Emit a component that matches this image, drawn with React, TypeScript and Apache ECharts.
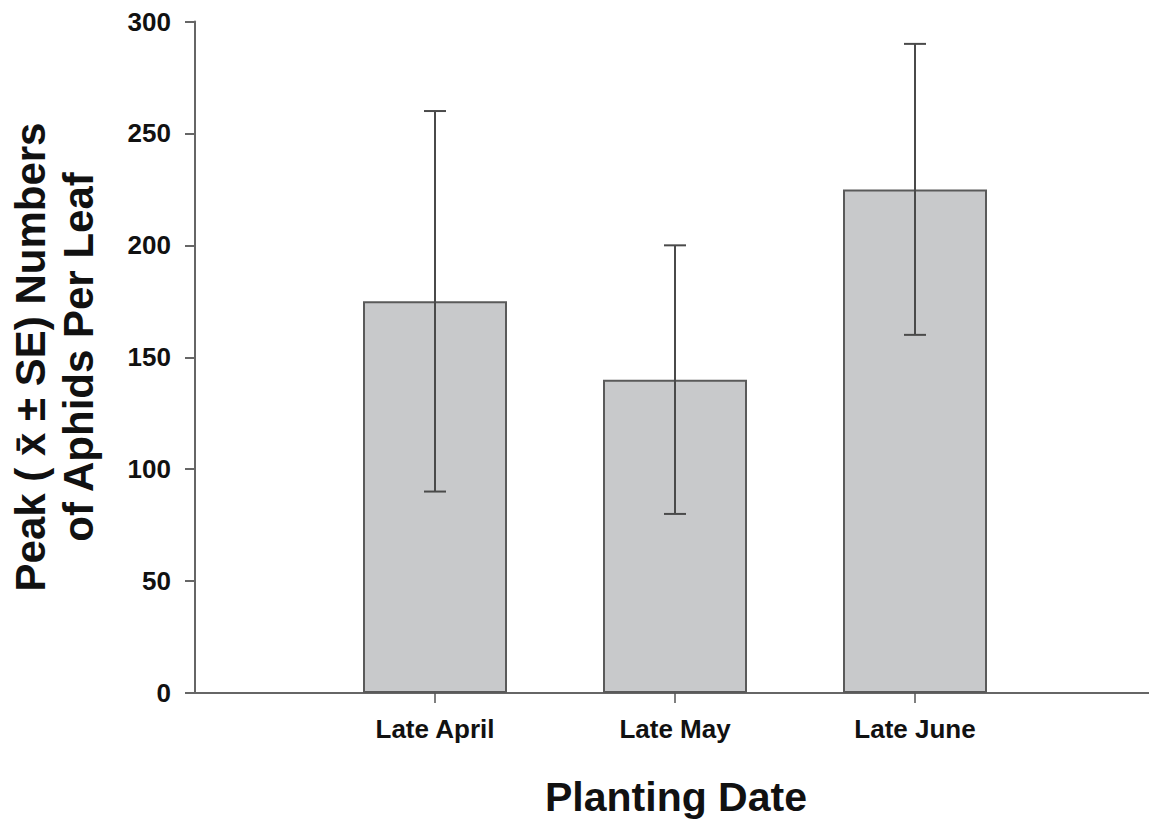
import React, { useEffect, useRef } from "react";
import * as echarts from "echarts";

const categories = ["", "Late April", "Late May", "Late June", ""];
const means = [null, 175, 140, 225, null];
const errLow = [null, 90, 80, 160, null];
const errHigh = [null, 260, 200, 290, null];
const yTicks = { min: 0, max: 300, interval: 50 };
const yTitle = "Peak ( x\u0304 \u00b1 SE) Numbers\nof Aphids Per Leaf";
const xTitle = "Planting Date";

const FONT = '"Liberation Sans", Arial, Helvetica, sans-serif';

export default function App() {
  const ref = useRef<HTMLDivElement>(null);
  useEffect(() => {
    if (!ref.current) return;
    const chart = echarts.init(ref.current, undefined, { renderer: "svg" });
    const errData = categories
      .map((c, i) => (means[i] == null ? null : [i, errLow[i], errHigh[i]]))
      .filter((d) => d != null);
    chart.setOption({
      animation: false,
      backgroundColor: "#ffffff",
      textStyle: { fontFamily: FONT },
      grid: { left: 195, right: 25, top: 21.5, bottom: 130, containLabel: false },
      xAxis: {
        type: "category",
        data: categories,
        boundaryGap: false,
        axisLine: { show: true, lineStyle: { color: "#666666", width: 2 } },
        axisTick: {
          show: true,
          length: 10,
          inside: false,
          interval: (_i: number, v: string) => v !== "",
          lineStyle: { color: "#555555", width: 1.5 },
        },
        axisLabel: {
          interval: 0,
          margin: 23,
          fontSize: 26,
          fontWeight: "bold",
          color: "#111111",
          fontFamily: FONT,
        },
        splitLine: { show: false },
      },
      yAxis: {
        type: "value",
        min: yTicks.min,
        max: yTicks.max,
        interval: yTicks.interval,
        axisLine: { show: true, lineStyle: { color: "#666666", width: 2 } },
        axisTick: { show: true, length: 10, lineStyle: { color: "#666666", width: 2 } },
        axisLabel: {
          margin: 24,
          fontSize: 26,
          fontWeight: "bold",
          color: "#111111",
          fontFamily: FONT,
        },
        splitLine: { show: false },
      },
      series: [
        {
          type: "bar",
          data: means.map((v) => (v == null ? "-" : v)),
          barWidth: 144,
          itemStyle: { color: "#c8c9cb", borderColor: "#5a5a5a", borderWidth: 2 },
          z: 2,
        },
        {
          type: "custom",
          z: 3,
          data: errData,
          renderItem: (_params: any, api: any) => {
            const lo = api.coord([api.value(0), api.value(1)]);
            const hi = api.coord([api.value(0), api.value(2)]);
            const half = 11;
            const style = { stroke: "#4a4a4a", lineWidth: 2 };
            return {
              type: "group",
              children: [
                { type: "line", shape: { x1: lo[0], y1: lo[1], x2: hi[0], y2: hi[1] }, style },
                { type: "line", shape: { x1: hi[0] - half, y1: hi[1], x2: hi[0] + half, y2: hi[1] }, style },
                { type: "line", shape: { x1: lo[0] - half, y1: lo[1], x2: lo[0] + half, y2: lo[1] }, style },
              ],
            };
          },
        },
      ],
      graphic: [
        {
          type: "text",
          x: 54,
          y: 357,
          rotation: Math.PI / 2,
          style: {
            text: yTitle,
            font: `bold 42px ${FONT}`,
            fill: "#111111",
            textAlign: "center",
            textVerticalAlign: "middle",
            lineHeight: 48,
          },
        },
        {
          type: "text",
          x: 676,
          y: 797,
          style: {
            text: xTitle,
            font: `bold 41px ${FONT}`,
            fill: "#111111",
            textAlign: "center",
            textVerticalAlign: "middle",
          },
        },
      ],
    });
    return () => chart.dispose();
  }, []);
  return (
    <div
      style={{
        position: "fixed",
        left: 0,
        top: 0,
        width: 1149,
        height: 823,
        overflow: "hidden",
        background: "#ffffff",
      }}
    >
      <div ref={ref} style={{ width: 1180, height: 823 }} />
    </div>
  );
}
